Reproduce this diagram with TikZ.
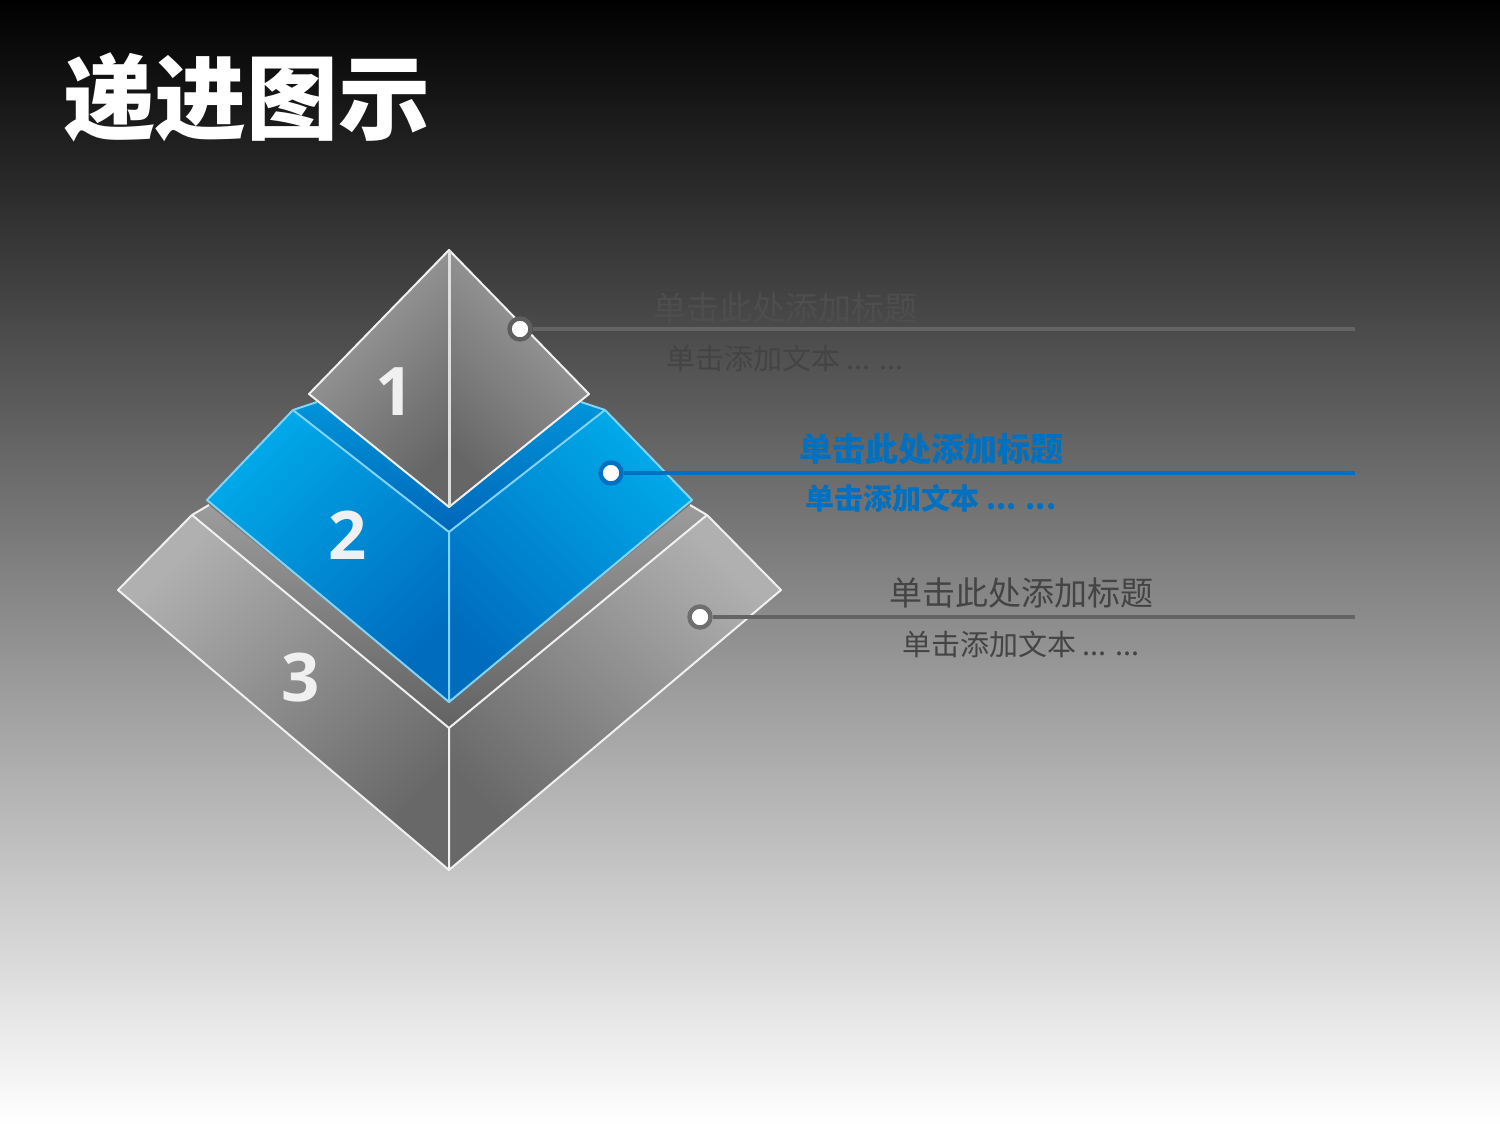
\documentclass[tikz,border=0pt]{standalone}
\usepackage{fontspec}
\newfontfamily\cjk{Noto Sans CJK SC}
\newfontfamily\digitfont{Open Sans}
\definecolor{blueMain}{HTML}{0070C0}
\definecolor{blueLight}{HTML}{00AAEA}
\definecolor{blueDark}{HTML}{006CBE}
\definecolor{blueEdge}{HTML}{80D4F8}
\definecolor{stripTop}{HTML}{0094DA}
\definecolor{stripBot}{HTML}{0066B8}
\definecolor{grayLight}{HTML}{B0B0B0}
\definecolor{grayDark}{HTML}{686868}
\definecolor{stripGrayTop}{HTML}{9C9C9C}
\definecolor{stripGrayBot}{HTML}{626262}
\definecolor{oneLight}{HTML}{A2A2A2}
\definecolor{oneDark}{HTML}{666666}
\definecolor{edgeWhite}{HTML}{F0F0F0}
\definecolor{lineGray}{HTML}{646464}
\definecolor{ringGray}{HTML}{5E5E5E}
\definecolor{textGray}{HTML}{444444}
\definecolor{faintGray}{HTML}{4E4E4E}
\begin{document}
\begin{tikzpicture}[x=1pt,y=-1pt,
  whiteedge/.style={draw=edgeWhite,line width=2pt,line join=round},
  blueedge/.style={draw=blueEdge,line width=2pt,line join=round},
  faceL/.style={top color=#1Light,bottom color=#1Dark,shading angle=45},
  faceR/.style={top color=#1Light,bottom color=#1Dark,shading angle=-45},
  digit/.style={text=edgeWhite,font=\digitfont\bfseries\fontsize{67}{67}\selectfont,inner sep=0pt},
  dotnode/.style={circle,draw=#1,line width=4.4pt,fill=white,minimum size=21pt,inner sep=0pt},
  link/.style={draw=#1,line width=4.6pt},
  headline/.style={font=\cjk\fontsize{33}{33}\selectfont,text=#1,inner sep=0pt},
  subline/.style={font=\cjk\fontsize{29}{29}\selectfont,text=#1,inner sep=0pt},
  headbold/.style={font=\cjk\bfseries\fontsize{33}{33}\selectfont,text=blueMain,inner sep=0pt},
  subbold/.style={font=\cjk\bfseries\fontsize{29}{29}\selectfont,text=blueMain,inner sep=0pt}]
\useasboundingbox (0,0) rectangle (1500,1125);
\shade[top color=black,bottom color=white] (0,0) rectangle (1500,1125);

% title
\node[font=\cjk\bfseries\fontsize{92}{92}\selectfont,text=white,inner sep=0pt] (title) at (247,97) {递进图示};

% tile 3 strip
\shade[top color=stripGrayTop,bottom color=stripGrayBot] (192,515) -- (209,505) -- (449,702) -- (690,505) -- (707,515) -- (449,728) -- cycle;
\draw[whiteedge] (192,515) -- (209,505);
\draw[whiteedge] (690,505) -- (707,515);
% tile 3 faces
\shadedraw[faceL=gray,whiteedge] (118,590) -- (192,515) -- (449,728) -- (449,870) -- cycle;
\shadedraw[faceR=gray,whiteedge] (781,590) -- (707,515) -- (449,728) -- (449,870) -- cycle;

% tile 2 strip
\shade[top color=stripTop,bottom color=stripBot] (293,410) -- (317,402) -- (449,507) -- (581,402) -- (605,410) -- (449,532) -- cycle;
\draw[blueedge] (293,410) -- (317,402);
\draw[blueedge] (581,402) -- (605,410);
% tile 2 faces
\shadedraw[faceL=blue,blueedge] (207,500) -- (293,410) -- (449,532) -- (449,702) -- cycle;
\shadedraw[faceR=blue,blueedge] (692,500) -- (605,410) -- (449,532) -- (449,702) -- cycle;

% tile 1 faces
\shadedraw[faceL=one,whiteedge] (449,250) -- (309,394) -- (449,507) -- cycle;
\shadedraw[faceR=one,whiteedge] (449,250) -- (589,394) -- (449,507) -- cycle;
\draw[draw=edgeWhite!85!gray,line width=3pt] (449,251) -- (449,506);

% numbers
\node[digit] (n1) at (395,392) {1};
\node[digit] (n2) at (348,535) {2};
\node[digit] (n3) at (301,678) {3};

% callouts
\coordinate (e1) at (1355,329);
\coordinate (e2) at (1355,473);
\coordinate (e3) at (1355,617);
\node[dotnode=ringGray] (d1) at (520,329) {};
\node[dotnode=blueMain] (d2) at (611,473) {};
\node[dotnode=ringGray!90!white] (d3) at (700,617) {};
\draw[link=lineGray] (d1.east) -- (e1);
\draw[link=blueMain] (d2.east) -- (e2);
\draw[link=lineGray] (d3.east) -- (e3);

\node[headline=faintGray] (h1) at (785,308) {单击此处添加标题};
\node[subline=textGray] (s1) at (785,358) {单击添加文本 ... ...};
\node[headbold] (h2) at (931,449) {单击此处添加标题};
\node[subbold] (s2) at (931,498) {单击添加文本 ... ...};
\node[headline=textGray] (h3) at (1021,593) {单击此处添加标题};
\node[subline=textGray] (s3) at (1021,644) {单击添加文本 ... ...};
\end{tikzpicture}
\end{document}
